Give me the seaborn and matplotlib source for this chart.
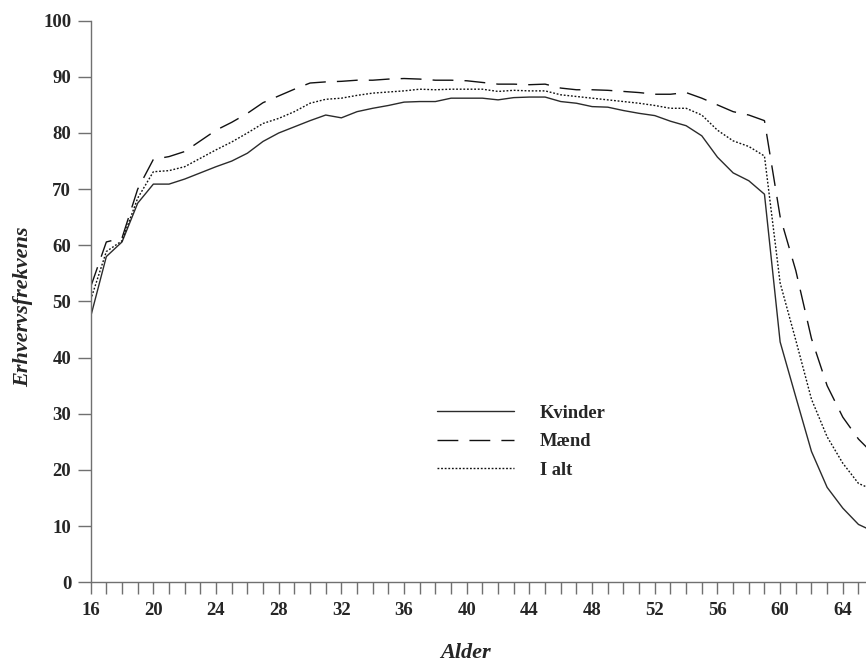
import numpy as np
import pandas as pd
import matplotlib
matplotlib.use('Agg')
import matplotlib.pyplot as plt
from matplotlib.ticker import MultipleLocator
import seaborn as sns

# Alder 16-66 år
alder = list(range(16, 67))

kvinder = [47.3, 58.0, 60.6, 67.5, 70.9, 70.9, 71.8, 72.9, 74.0, 75.0,
           76.4, 78.5, 80.0, 81.1, 82.2, 83.2, 82.7, 83.8, 84.4, 84.9,
           85.5, 85.6, 85.6, 86.2, 86.2, 86.2, 85.9, 86.3, 86.4, 86.4,
           85.6, 85.3, 84.7, 84.6, 84.0, 83.5, 83.1, 82.1, 81.3, 79.5,
           75.7, 72.9, 71.5, 69.1, 42.8, 33.0, 23.3, 16.9, 13.2, 10.3, 9.0]

maend = [52.6, 60.6, 61.3, 70.0, 75.3, 75.8, 76.7, 78.6, 80.5, 81.9,
         83.5, 85.4, 86.6, 87.8, 88.9, 89.1, 89.2, 89.4, 89.4, 89.6,
         89.7, 89.6, 89.4, 89.4, 89.3, 89.0, 88.7, 88.7, 88.6, 88.7,
         88.0, 87.7, 87.7, 87.6, 87.4, 87.2, 86.9, 86.9, 87.2, 86.2,
         85.0, 83.8, 83.2, 82.2, 65.1, 55.5, 43.4, 35.0, 29.4, 25.5, 22.7]

i_alt = [50.3, 58.9, 60.8, 68.4, 73.1, 73.3, 74.0, 75.5, 77.0, 78.4,
         80.0, 81.7, 82.6, 83.8, 85.3, 86.0, 86.2, 86.7, 87.1, 87.3,
         87.5, 87.8, 87.7, 87.8, 87.8, 87.8, 87.4, 87.6, 87.5, 87.5,
         86.8, 86.5, 86.2, 85.9, 85.6, 85.3, 84.9, 84.4, 84.4, 83.2,
         80.5, 78.6, 77.6, 75.9, 53.3, 43.1, 32.6, 25.9, 21.2, 17.6, 16.4]

serier = ['Kvinder', 'Mænd', 'I alt']

df = pd.DataFrame({
    'Alder': alder * 3,
    'Erhvervsfrekvens': kvinder + maend + i_alt,
    'Serie': [s for s in serier for _ in alder],
})

sns.set_style('ticks')
plt.rcParams['font.family'] = ['Liberation Serif', 'DejaVu Serif']
plt.rcParams['font.weight'] = 'bold'

fig = plt.figure(figsize=(8.66, 6.67), dpi=100)
ax = fig.add_axes([0.1047, 0.127, 0.8953, 0.842])

farver = {'Kvinder': '#2b2b2b', 'Mænd': '#111111', 'I alt': '#111111'}
streger = {'Kvinder': '', 'Mænd': (15, 8), 'I alt': (1.3, 1.3)}

sns.lineplot(data=df, x='Alder', y='Erhvervsfrekvens', hue='Serie',
             style='Serie', palette=farver, dashes=streger,
             linewidth=1.0, ax=ax, legend='full')

ax.set_xlim(16, 65.48)
ax.set_ylim(0, 100)
ax.xaxis.set_major_locator(MultipleLocator(4))
ax.xaxis.set_minor_locator(MultipleLocator(1))
ax.yaxis.set_major_locator(MultipleLocator(10))

spinefarve = '#707070'
sns.despine(ax=ax)
for s in ['left', 'bottom']:
    ax.spines[s].set_color(spinefarve)
    ax.spines[s].set_linewidth(1.0)

ax.tick_params(axis='y', which='major', length=9.5, width=1.0,
               color=spinefarve, labelsize=13.5, pad=4.5)
ax.tick_params(axis='x', which='both', length=8.5, width=1.0,
               color=spinefarve, labelsize=13.5, pad=6)
for lbl in ax.get_xticklabels() + ax.get_yticklabels():
    lbl.set_fontweight('bold')

ax.set_xlabel('Alder', fontsize=16, fontweight='bold', fontstyle='italic')
ax.set_ylabel('Erhvervsfrekvens', fontsize=16, fontweight='bold',
              fontstyle='italic')
ax.xaxis.set_label_coords(0.484, -0.108)
ax.yaxis.set_label_coords(-0.0744, 0.49)

handles, labels = ax.get_legend_handles_labels()
ax.legend(handles, labels, loc='center left',
          bbox_to_anchor=(0.5043, 0.3378), bbox_transform=fig.transFigure,
          frameon=False, borderpad=0, borderaxespad=0,
          handlelength=4.2, handletextpad=1.4, labelspacing=0.62,
          prop={'family': 'Liberation Serif', 'weight': 'bold', 'size': 13.3})

fig.savefig('out.png', dpi=100)
